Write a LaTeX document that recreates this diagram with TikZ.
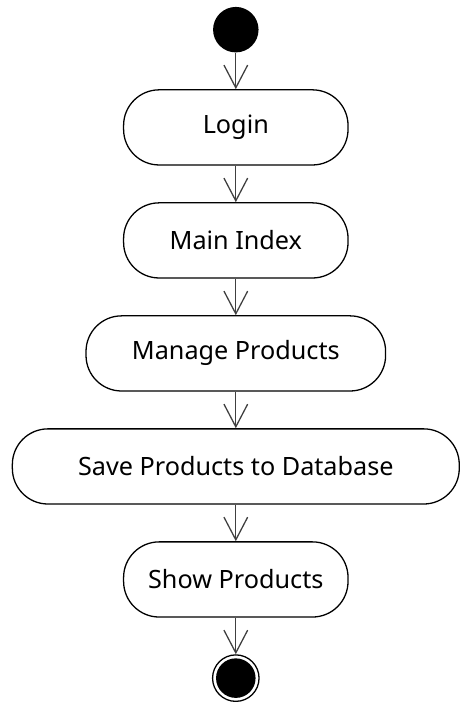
\documentclass[tikz,border=0pt]{standalone}
\usepackage{fontspec}
\setmainfont{Noto Sans}
\usetikzlibrary{positioning,arrows.meta}

\begin{document}
\begin{tikzpicture}[x=1pt,y=1pt,node distance=37pt]%
  \tikzstyle{actn}=[rectangle,rounded corners=36pt,draw,line width=1.3pt,minimum width=227pt,minimum height=76pt,inner sep=0,font=\fontsize{25.5}{30}\selectfont]
  \tikzstyle{startn}=[circle,fill,inner sep=0,minimum size=46pt]
  \tikzstyle{endn}=[circle,draw,line width=1.3pt,inner sep=0,minimum size=47pt]
  \tikzstyle{flow}=[draw=black!75,line width=1.3pt,-{Straight Barb[length=23pt,width=24pt,line width=1.3pt]}]
  \node(start)[startn]{};
  \node(login)[actn,below=of start]{Login};
  \node(index)[actn,below=of login]{Main Index};
  \node(manage)[actn,below=of index,minimum width=303pt]{Manage Products};
  \node(save)[actn,below=of manage,minimum width=452pt]{Save Products to Database};
  \node(show)[actn,below=of save]{Show Products};
  \node(end)[endn,below=of show]{};
  \fill (end.center) circle (20pt);
  \useasboundingbox (start.center) ++(-238.5,30) rectangle ++(457,-702);
  \foreach \a/\b in {start/login,login/index,index/manage,manage/save,save/show,show/end}
    \draw[flow] (\a) -- (\b);
\end{tikzpicture}
\end{document}
